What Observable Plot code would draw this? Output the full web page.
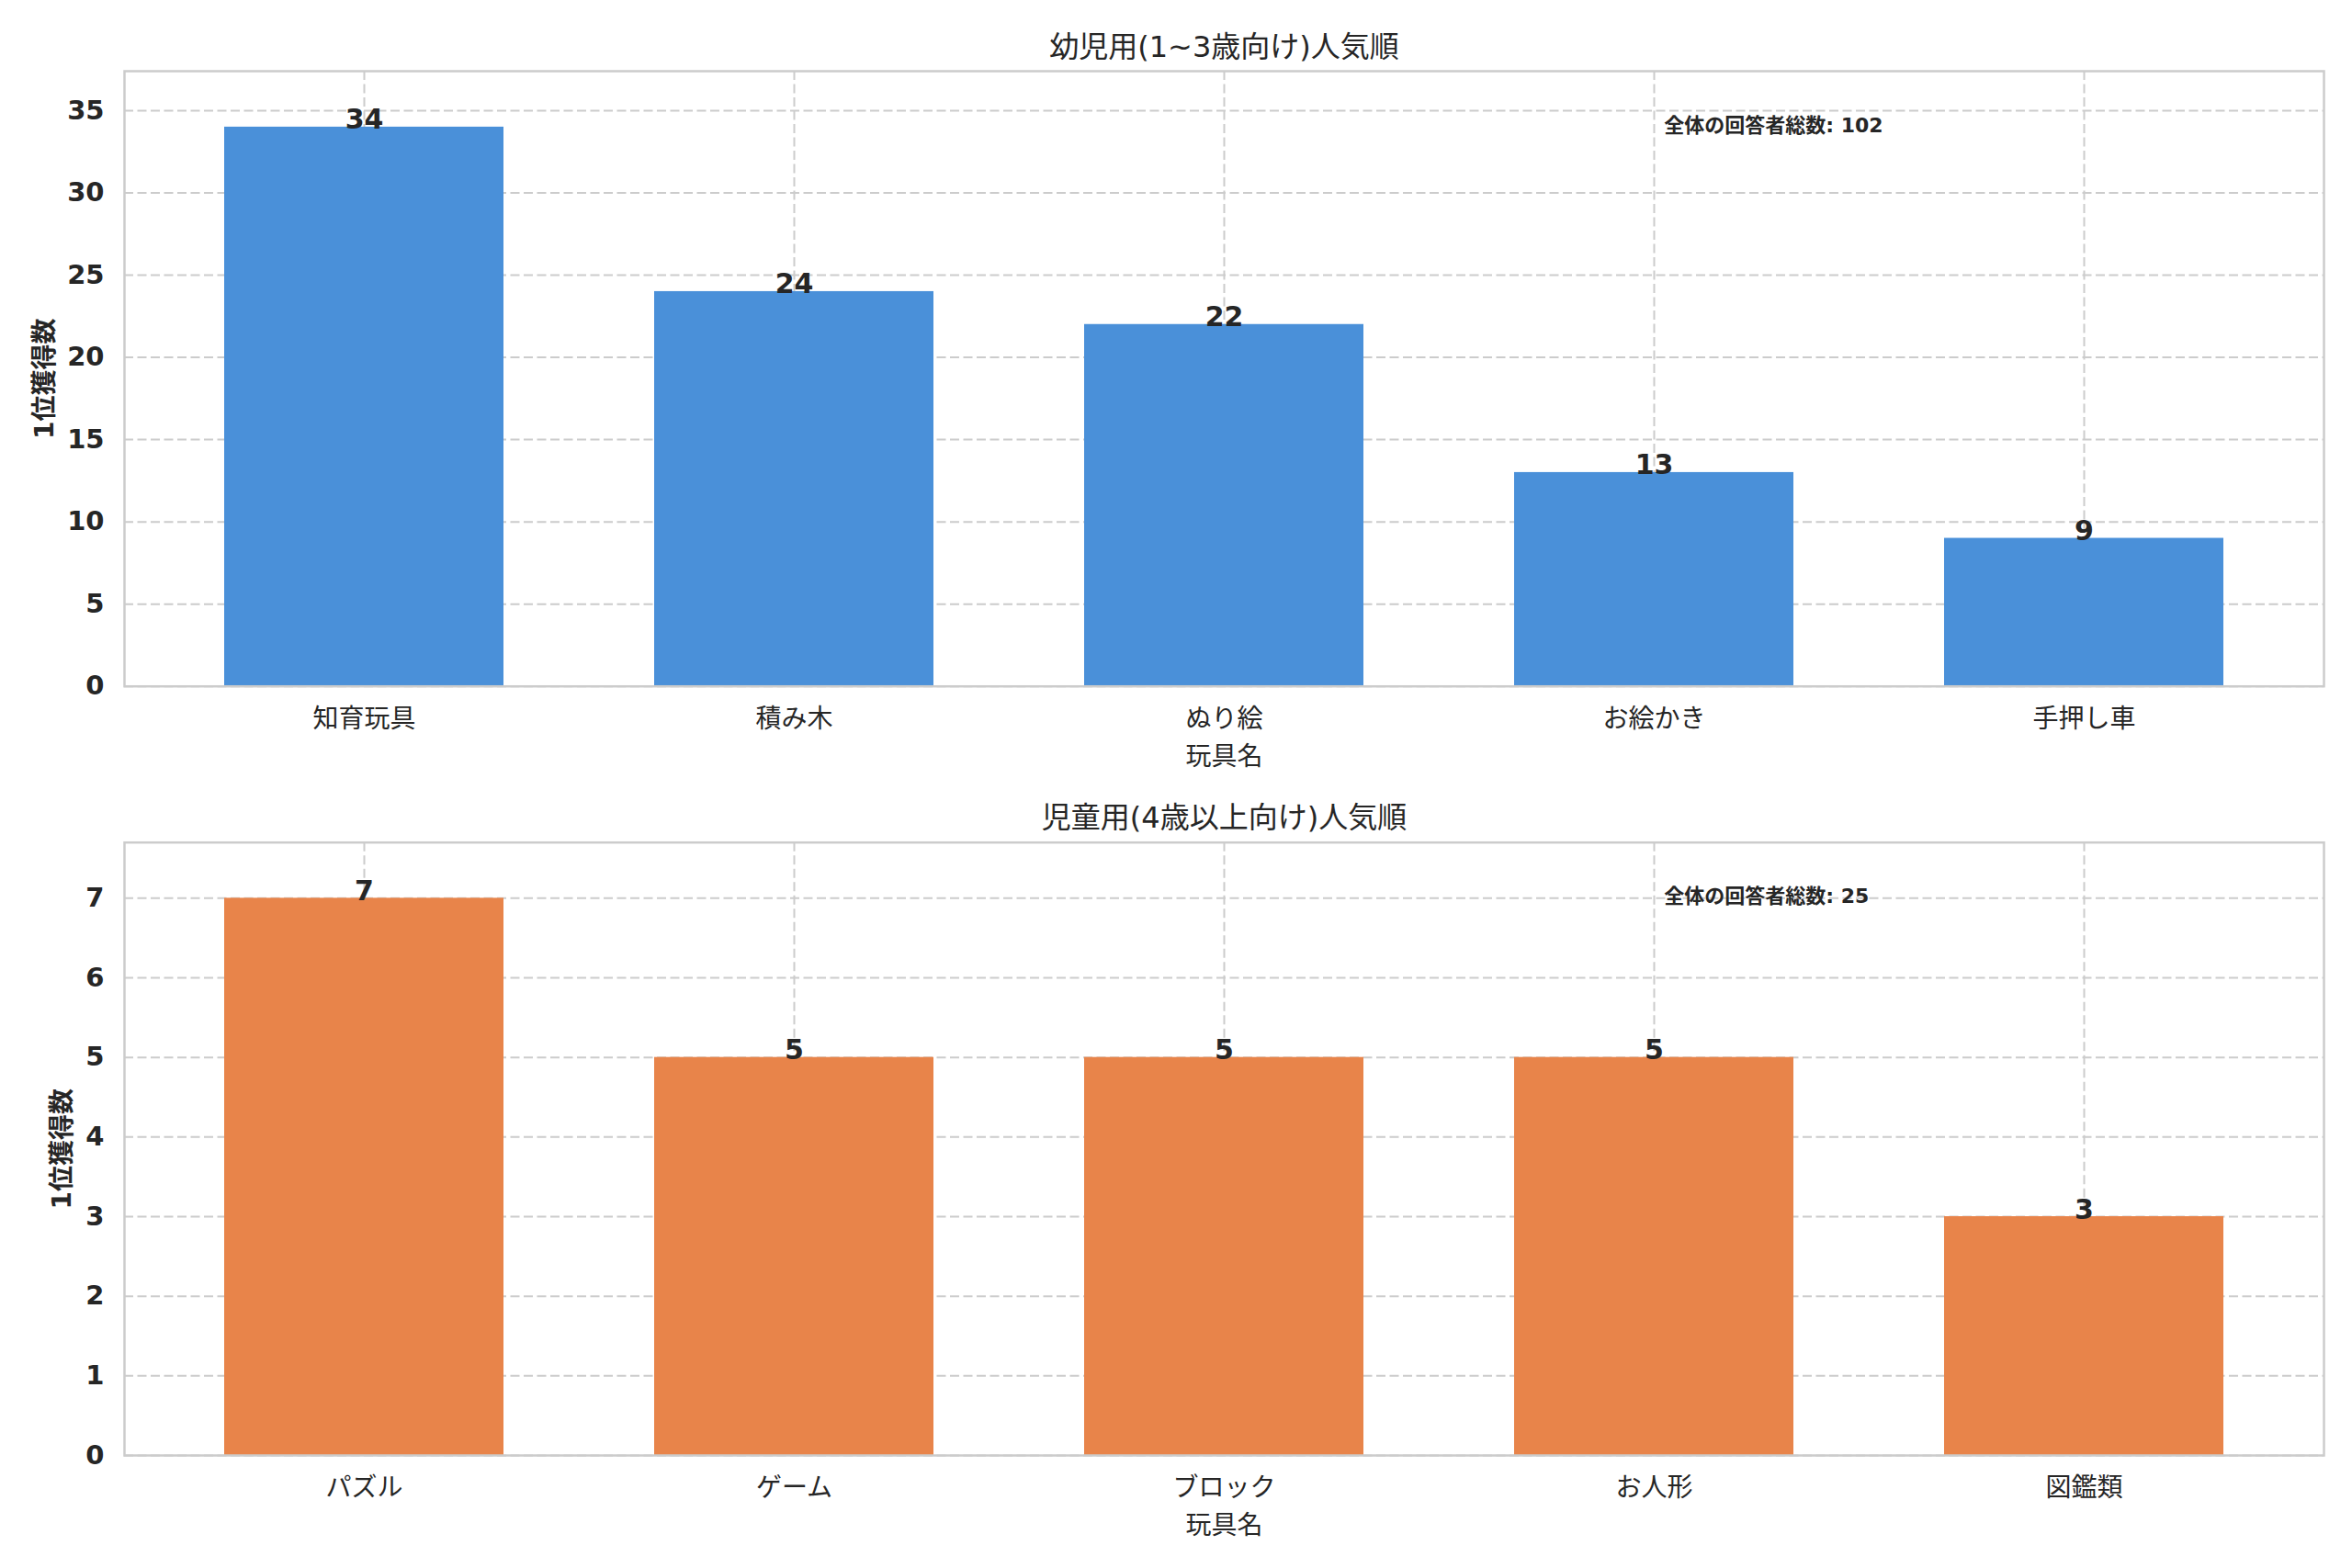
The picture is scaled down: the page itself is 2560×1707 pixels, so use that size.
<!DOCTYPE html>
<html><head><meta charset="utf-8">
<script src="https://cdn.jsdelivr.net/npm/d3@7"></script>
<script src="https://cdn.jsdelivr.net/npm/@observablehq/plot@0.6"></script>
<style>
body{margin:0;background:#fff}
#chart{width:2560px;height:1707px;background:#fff}
#chart svg{display:block}
</style>
</head><body><div id="chart"></div>
<script>
const topCategories = ["知育玩具","積み木","ぬり絵","お絵かき","手押し車"];
const topValues = [34, 24, 22, 13, 9];
const bottomCategories = ["パズル","ゲーム","ブロック","お人形","図鑑類"];
const bottomValues = [7, 5, 5, 5, 3];
const topTitle = "幼児用(1~3歳向け)人気順";
const bottomTitle = "児童用(4歳以上向け)人気順";
const xLabel = "玩具名";
const yLabel = "1位獲得数";
const totalLabel = "全体の回答者総数";
const topYTicks = [0, 5, 10, 15, 20, 25, 30, 35];
const bottomYTicks = [0, 1, 2, 3, 4, 5, 6, 7];

const FONT = "'DejaVu Sans', 'Noto Sans CJK JP', sans-serif";
const INK = "#262626";
const GRID = {stroke: "#cccccc", strokeOpacity: 1, strokeWidth: 2, strokeDasharray: "10,4.5"};

function panel({cats, vals, color, title, ticks, yMax, height, marginTop, marginBottom, yLabelDx}) {
  const data = cats.map((c, i) => ({c, v: vals[i]}));
  const total = d3.sum(vals);
  const frameW = 2560 - 135 - 31;
  return Plot.plot({
    width: 2560, height, marginTop, marginBottom, marginLeft: 135, marginRight: 31,
    style: {fontFamily: FONT, color: INK, background: "#fff", overflow: "visible"},
    x: {type: "band", domain: cats, paddingInner: 0.35, paddingOuter: 0.2325, align: 0.5},
    y: {domain: [0, yMax]},
    marks: [
      Plot.gridY(ticks, GRID),
      Plot.gridX(GRID),
      Plot.barY(data, {x: "c", y: "v", fill: color}),
      Plot.frame({stroke: "#cccccc", strokeWidth: 2.5}),
      Plot.axisY(ticks, {tickSize: 0, tickPadding: 22, fontSize: 29, fontWeight: "bold", fill: INK, label: null, tickFormat: d3.format("d")}),
      Plot.axisX({tickSize: 0, tickPadding: 25, fontSize: 28, fill: INK, label: null}),
      Plot.text(data, {x: "c", y: "v", text: d => String(d.v), lineAnchor: "bottom", dy: 2, fontSize: 30, fontWeight: "bold", fill: INK}),
      Plot.text([title], {text: d => d, frameAnchor: "top", dy: -26, fontSize: 32, lineAnchor: "middle", textAnchor: "middle", fill: INK}),
      Plot.text([xLabel], {text: d => d, frameAnchor: "bottom", dy: 77, fontSize: 28, lineAnchor: "middle", textAnchor: "middle", fill: INK}),
      Plot.text([yLabel], {text: d => d, frameAnchor: "left", dx: yLabelDx, rotate: -90, fontSize: 28, fontWeight: "bold", lineAnchor: "middle", textAnchor: "middle", fill: INK}),
      Plot.text([`${totalLabel}: ${total}`], {text: d => d, frameAnchor: "top-left", dx: 0.7 * frameW, dy: 59, textAnchor: "start", lineAnchor: "middle", fontSize: 22, fontWeight: "bold", fill: INK})
    ]
  });
}

const root = document.getElementById("chart");
root.append(panel({
  cats: topCategories, vals: topValues, color: "#4a90d9", title: topTitle,
  ticks: topYTicks, yMax: 37.4, height: 860, marginTop: 77, marginBottom: 113.3, yLabelDx: -86
}));
root.append(panel({
  cats: bottomCategories, vals: bottomValues, color: "#e8844a", title: bottomTitle,
  ticks: bottomYTicks, yMax: 7.7, height: 847, marginTop: 56.7, marginBottom: 123, yLabelDx: -67
}));
</script>
</body></html>
